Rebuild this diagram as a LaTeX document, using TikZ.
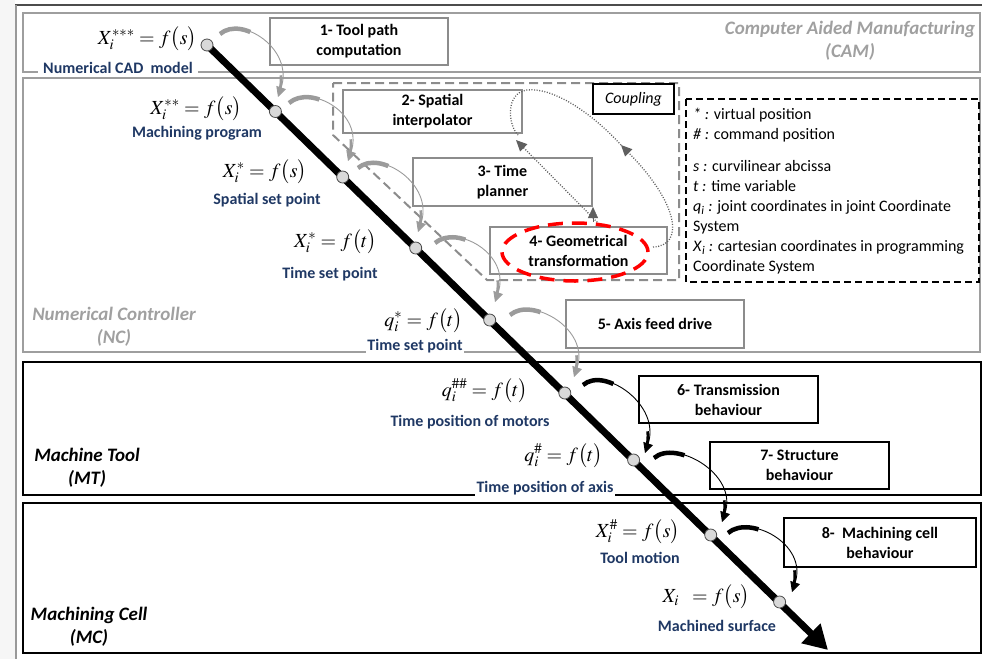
\documentclass[tikz,border=0pt]{standalone}
\usepackage{mathptmx}
\usepackage[no-math]{fontspec}
\setmainfont{Carlito}
\usetikzlibrary{arrows.meta,calc}
\definecolor{navy}{RGB}{31,56,100}
\definecolor{boxgray}{RGB}{140,140,140}
\definecolor{arrgray}{RGB}{155,155,155}
\definecolor{titlegray}{RGB}{160,160,160}
\definecolor{dotgray}{RGB}{95,95,95}
\newcommand\curvearr[3]{%
 \draw[#1, line width=0.9pt, -{Triangle[length=10pt,width=10pt]}] (#2) .. controls +(22,-19) and +(16,-48) .. (#3);
 \draw[#1, line width=4.5pt, dash pattern=on 32pt off 2000pt] (#2) .. controls +(22,-19) and +(16,-48) .. (#3);
 \draw[#1, line width=2.6pt, dash pattern=on 0pt off 8pt on 14pt off 2000pt] (#3) .. controls +(16,-48) and +(22,-19) .. (#2);
}
\begin{document}
\begin{tikzpicture}[x=1pt,y=-1pt,
  graybox/.style={draw=boxgray, line width=2pt, align=center, font=\fontsize{16}{20}\selectfont\bfseries},
  blackbox/.style={draw=black, line width=2.5pt, align=center, font=\fontsize{16}{20}\selectfont\bfseries},
  fml/.style={anchor=east, inner sep=0pt, font=\fontsize{20}{24}\selectfont},
  lbl/.style={text=navy, inner sep=1.5pt, font=\fontsize{16}{20}\selectfont\bfseries},
  region/.style={align=center, font=\fontsize{19}{23}\selectfont\bfseries\itshape},
  dot/.style={circle, draw=black!70, fill=black!15, line width=0.8pt, minimum size=12pt, inner sep=0pt},
  dotline/.style={draw=dotgray, line width=1.3pt, dash pattern=on 1pt off 1.6pt},
  dtip/.style={-{Triangle[length=11pt,width=10pt]}, dotgray}
]
\useasboundingbox (0,0) rectangle (982,659);
\fill[gray!7] (0,0) rectangle (15,659);
% outer frame
\draw[black!70, line width=1.5pt] (15,5) -- (982,5);
\draw[black!40, line width=2pt] (15.5,5) -- (15.5,659);
% regions
\draw[draw=black!38, line width=2.2pt] (23,13) rectangle (980,72);
\draw[draw=black!38, line width=2.2pt] (23,78) rectangle (980,352);
\draw[draw=black, line width=2.5pt] (23,362) rectangle (981,495);
\draw[draw=black, line width=2.5pt] (23,503) rectangle (981,653);
\node[region, text=titlegray] (cam) at (850,41) {Computer Aided Manufacturing\\(CAM)};
\node[region, text=titlegray] (nc) at (114,327) {Numerical Controller\\(NC)};
\node[region] (mt) at (87,468) {Machine Tool\\(MT)};
\node[region] (mc) at (89,627) {Machining Cell\\(MC)};
% coupling zone
\draw[boxgray, line width=2pt, dash pattern=on 9pt off 5pt] (333,83) -- (679,83) -- (679,280) -- (487,280) -- (333,135) -- cycle;
\node[draw=black, line width=2.5pt, minimum width=81pt, minimum height=30pt, font=\fontsize{16}{20}\selectfont\itshape] (cp) at (633.5,99) {Coupling};
% legend
\draw[black, line width=1.6pt, dash pattern=on 7pt off 4pt] (686,99) rectangle (979,282);
\node[anchor=north west, inner sep=0pt, align=left, font=\fontsize{16}{20}\selectfont] (leg) at (693,108) {%
\textit{* :} virtual position\\
\textit{\# :} command position\\[12pt]
\textit{s :} curvilinear abcissa\\
\textit{t :} time variable\\
\textit{q}\textsubscript{\textit{i}}\textit{ :} joint coordinates in joint Coordinate\\
System\\
\textit{X}\textsubscript{\textit{i}}\textit{ :} cartesian coordinates in programming\\
Coordinate System};
% process boxes
\node[graybox, minimum width=178pt, minimum height=47pt] (b1) at (359,41.5) {1- Tool path\\computation};
\node[graybox, minimum width=179pt, minimum height=43pt] (b2) at (432.5,111.5) {2- Spatial\\interpolator};
\node[graybox, minimum width=179pt, minimum height=48pt] (b3) at (502.5,182) {3- Time\\planner};
\node[graybox, minimum width=177pt, minimum height=47pt] (b4) at (578.5,250.5) {4- Geometrical\\transformation};
\node[graybox, minimum width=178pt, minimum height=48pt] (b5) at (655,324) {5- Axis feed drive};
\node[blackbox, minimum width=179pt, minimum height=47pt] (b6) at (728.5,399.5) {6- Transmission\\behaviour};
\node[blackbox, minimum width=179pt, minimum height=47pt] (b7) at (799.5,465.5) {7- Structure\\behaviour};
\node[blackbox, minimum width=192pt, minimum height=49pt] (b8) at (880,542.5) {8-~ Machining cell\\behaviour};
% dotted coupling arrows
\coordinate (d1) at (653,247);
\coordinate (d2) at (621,145);
\coordinate (d3) at (527,90);
\coordinate (d4) at (518,135);
\coordinate (d5) at (601,226);
\coordinate (d6) at (516,140);
\coordinate (d7) at (593,222);
\coordinate (d8) at (593,207);
\draw[dotline, dtip] (d1) .. controls (684,246) and (680,205) .. (d2);
\draw[dotline] (d2) .. controls (592,113) and (553,87) .. (d3) .. controls (505,93) and (508,125) .. (d4);
\draw[dotline, dtip] (d5) -- (d6);
\draw[dotgray, line width=0.3pt, dtip] (d7) -- (d8);
% red ellipse
\draw[red, line width=3.5pt, dash pattern=on 15pt off 9pt] (575,252) ellipse [x radius=73pt, y radius=29pt];
% main arrow
\coordinate (ms) at (207,45);
\coordinate (me) at (828,650);
\draw[line width=7pt, -{Triangle[length=24pt,width=26pt]}] (ms) -- (me);
\node[dot] (c1) at (207,45) {};
\node[dot] (c2) at (275.4,111.5) {};
\node[dot] (c3) at (342.7,177) {};
\node[dot] (c4) at (415.7,248) {};
\node[dot] (c5) at (489.7,320) {};
\node[dot] (c6) at (564.8,393) {};
\node[dot] (c7) at (633.6,460) {};
\node[dot] (c8) at (710.7,535) {};
\node[dot] (c9) at (779.6,602) {};
% curved arrows
\coordinate (a1s) at (220,34);  \coordinate (a1e) at (278,97);
\coordinate (a2s) at (289,103); \coordinate (a2e) at (348,161);
\coordinate (a3s) at (358,168); \coordinate (a3e) at (418,232);
\coordinate (a4s) at (435,243); \coordinate (a4e) at (495,302);
\coordinate (a5s) at (510,315); \coordinate (a5e) at (574,377);
\coordinate (a6s) at (583,385); \coordinate (a6e) at (645,453);
\coordinate (a7s) at (654,458); \coordinate (a7e) at (722,522);
\coordinate (a8s) at (728,533); \coordinate (a8e) at (792,592);
\curvearr{arrgray}{a1s}{a1e}
\curvearr{arrgray}{a2s}{a2e}
\curvearr{arrgray}{a3s}{a3e}
\curvearr{arrgray}{a4s}{a4e}
\curvearr{arrgray}{a5s}{a5e}
\curvearr{black}{a6s}{a6e}
\curvearr{black}{a7s}{a7e}
\curvearr{black}{a8s}{a8e}
% formulas
\node[fml] (f1) at (197,39) {$X_i^{***}=f\bigl(s\bigr)$};
\node[fml] (f2) at (242,109) {$X_i^{**}=f\bigl(s\bigr)$};
\node[fml] (f3) at (307,172) {$X_i^{*}=f\bigl(s\bigr)$};
\node[fml] (f4) at (377,242) {$X_i^{*}=f\bigl(t\bigr)$};
\node[fml] (f5) at (463,321) {$q_i^{*}=f\bigl(t\bigr)$};
\node[fml] (f6) at (528,391) {$q_i^{\#\#}=f\bigl(t\bigr)$};
\node[fml] (f7) at (603,456) {$q_i^{\#}=f\bigl(t\bigr)$};
\node[fml] (f8) at (680,532) {$X_i^{\#}=f\bigl(s\bigr)$};
\node[fml] (f9) at (750,597) {$X_i\;\;=f\bigl(s\bigr)$};
% labels
\node[lbl, fill=white, inner xsep=5pt] (l1) at (118,68) {Numerical CAD~ model};
\node[lbl] (l2) at (197,133) {Machining program};
\node[lbl] (l3) at (267,200) {Spatial set point};
\node[lbl] (l4) at (330,274) {Time set point};
\node[lbl, fill=white] (l5) at (415,346) {Time set point};
\node[lbl] (l6) at (470,422) {Time position of motors};
\node[lbl, fill=white] (l7) at (545,488) {Time position of axis};
\node[lbl] (l8) at (640,558) {Tool motion};
\node[lbl] (l9) at (717,626) {Machined surface};
\end{tikzpicture}
\end{document}
